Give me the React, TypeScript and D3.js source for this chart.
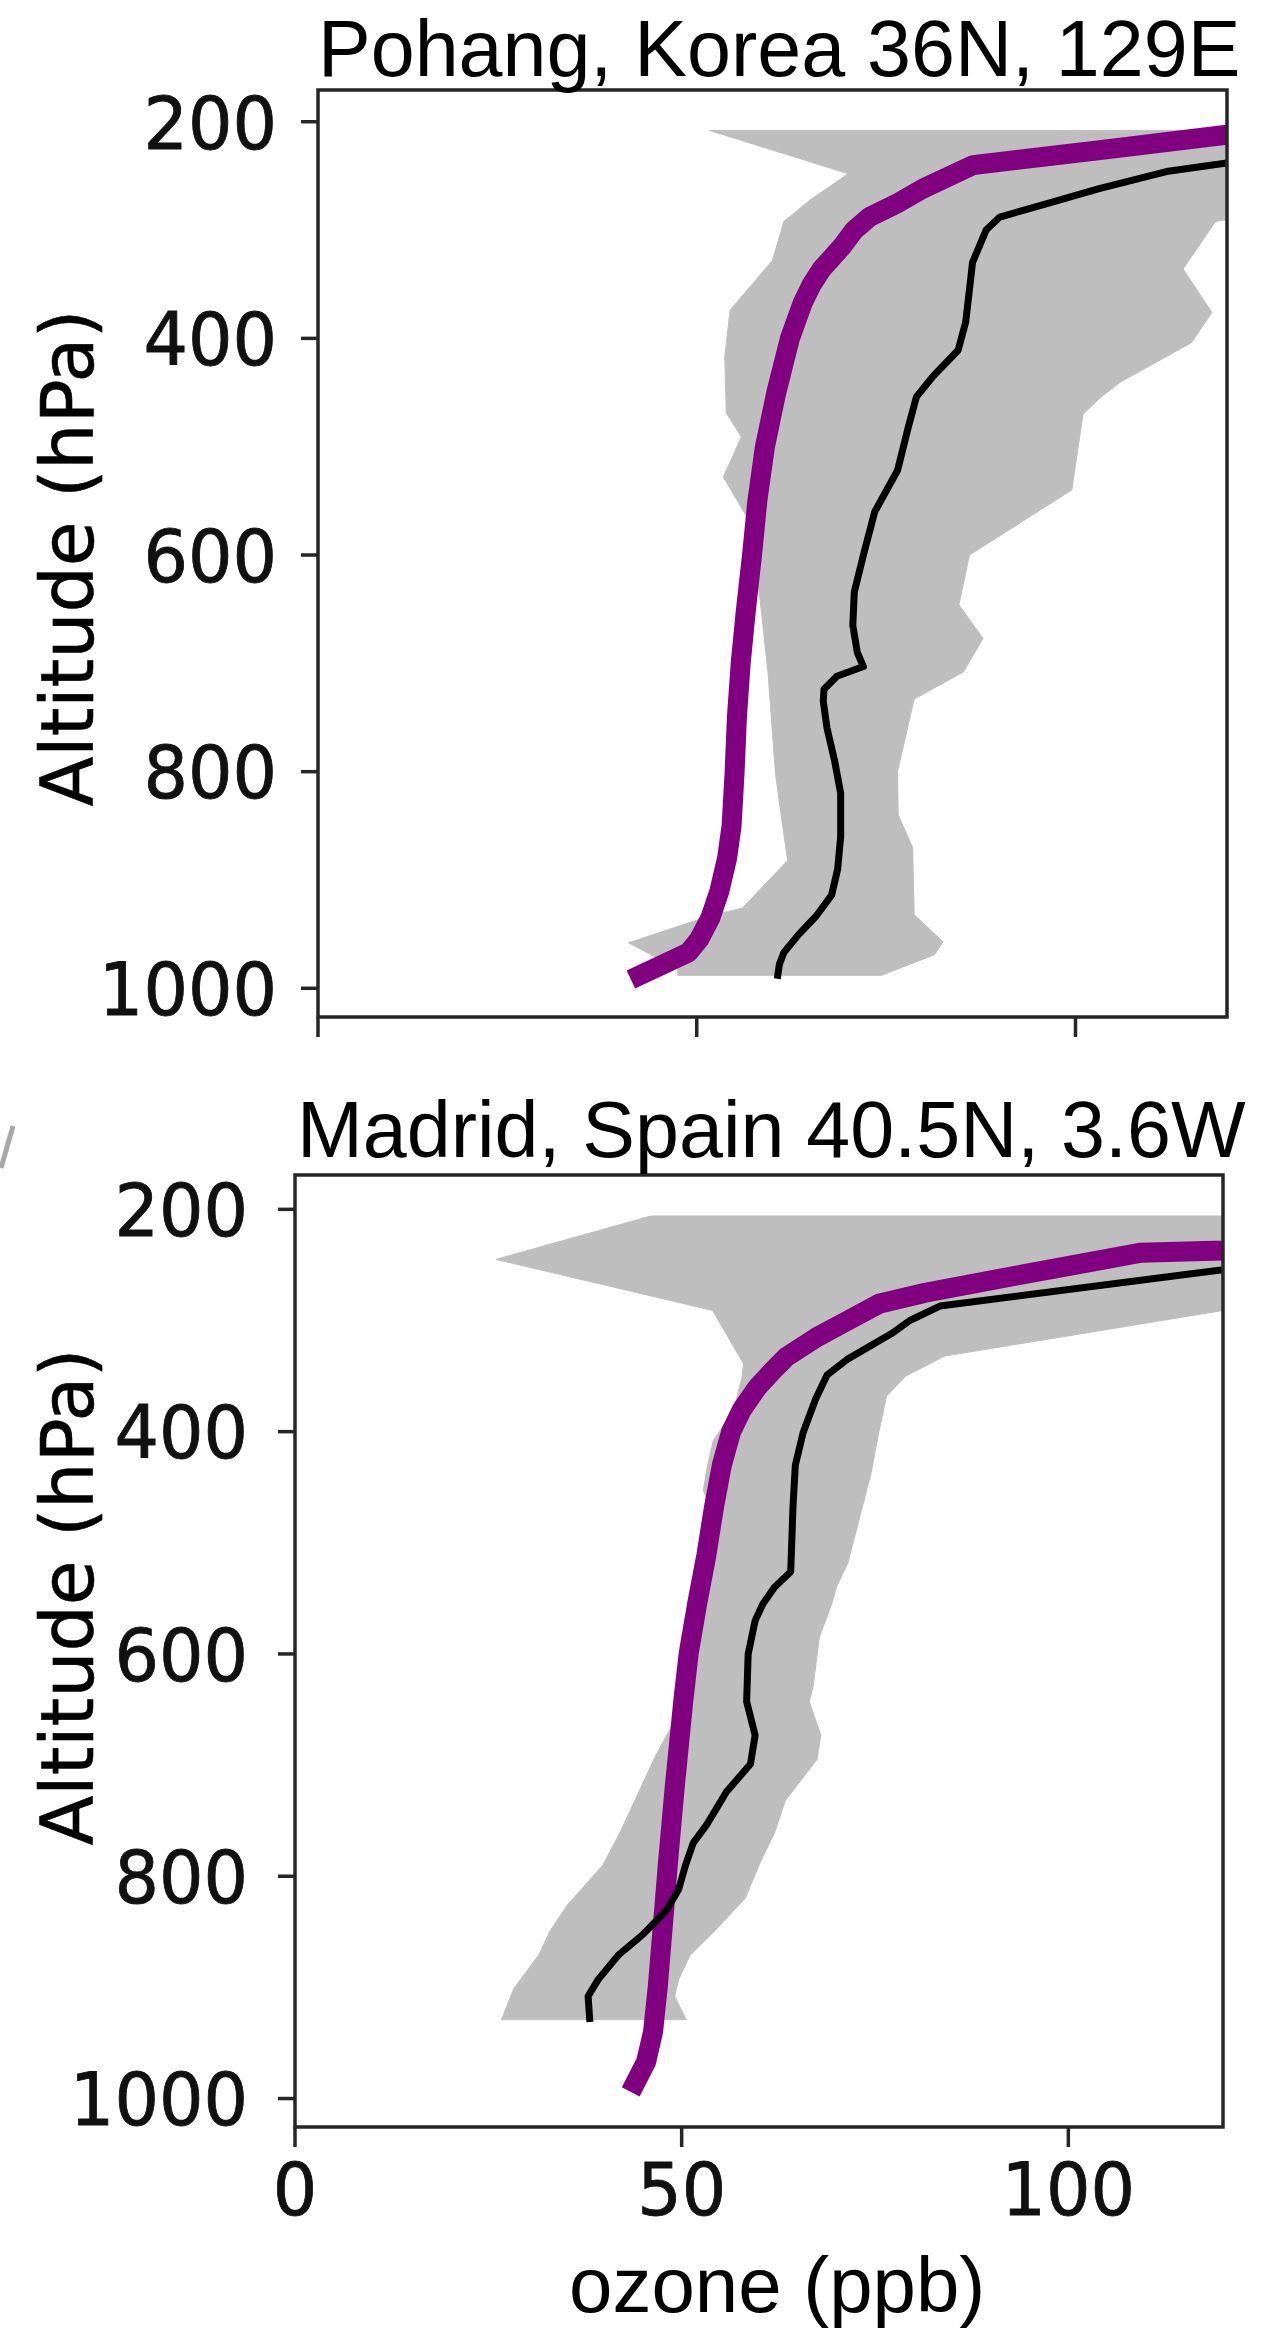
import React from "react";
import * as d3 from "d3";

// ---------- data (pressure hPa, ozone ppb) ----------
const xTicks = [0, 50, 100];
const yTicks = [200, 400, 600, 800, 1000];

const pohangObs: [number, number][] = [
  [232, 132], [238, 120], [246, 112], [262, 103], [276, 96], [288, 90], [300, 88.2],
  [330, 86.4], [343, 86.2], [385, 85.5], [411, 84.5], [435, 81.2], [454, 79], [480, 78],
  [522, 76.5], [560, 73.5], [600, 72], [634, 70.8], [665, 70.6], [690, 71.2], [703, 72],
  [712, 68.5], [724, 66.8], [735, 66.7], [760, 67.2], [790, 68.2], [820, 69], [860, 69],
  [890, 68.6], [914, 67.8], [933, 65.8], [950, 63.5], [967, 61.5], [978, 60.9], [988, 60.7],
];
const pohangModel: [number, number][] = [
  [205, 129], [212, 120], [226, 103.5], [240, 86.5], [262, 79.8], [276, 76.3], [288, 72.8],
  [300, 70.8], [315, 69.2], [336, 66.5], [350, 65.2], [367, 64], [400, 62.3], [450, 60.5],
  [500, 59], [550, 58], [600, 57.3], [650, 56.5], [700, 55.8], [750, 55.3], [800, 55],
  [850, 54.6], [880, 54], [910, 53], [935, 51.8], [955, 50.3], [967, 48.9], [988, 42.5],
];
const pohangLow: [number, number][] = [
  [208, 51.7], [248, 70], [272, 65], [292, 61.5], [328, 60], [374, 54.4], [417, 53.7],
  [469, 53.9], [491, 55.9], [528, 53.5], [574, 57.4], [603, 57.7], [650, 58.5], [708, 59.4],
  [802, 60.4], [833, 61], [882, 62], [926, 56], [933, 51.8], [958, 41], [982, 47.5], [988, 47.5],
];
const pohangHigh: [number, number][] = [
  [208, 128], [286, 124], [292, 118.5], [336, 114.2], [376, 118], [404, 115.3], [440, 106],
  [454, 103.4], [470, 101], [540, 99.5], [600, 86], [646, 84.6], [677, 87.8], [708, 85.2],
  [733, 78.7], [800, 76.5], [840, 76.6], [870, 78.5], [932, 78.7], [957, 82.5], [969, 81.4],
  [988, 74.4],
];

const madridObs: [number, number][] = [
  [250, 126], [254, 120.3], [287, 83.4], [300, 79.5], [312, 77.1], [335, 71.4], [349, 68.8],
  [371, 67.3], [401, 65.7], [430, 64.7], [467, 64.4], [526, 64.1], [540, 62], [555, 60.5],
  [570, 59.5], [600, 58.6], [643, 58.4], [673, 59.5], [699, 58.9], [724, 55.8], [754, 53.2],
  [770, 51.5], [790, 50.5], [812, 49.6], [831, 48], [853, 44.9], [871, 41.8], [893, 39.2],
  [908, 37.9], [928, 38.1],
];
const madridModel: [number, number][] = [
  [232, 130], [237, 120], [239, 109.4], [248, 102.4], [260, 93], [275, 81.5], [285, 75.5],
  [300, 71.5], [315, 67.5], [333, 63.5], [345, 61.8], [360, 59.8], [380, 57.8], [400, 56.4],
  [430, 55.2], [467, 54.2], [511, 53.2], [555, 52], [600, 50.9], [643, 50.2], [720, 49.1],
  [790, 48.2], [850, 47.5], [900, 46.9], [940, 46.3], [967, 45.4], [986, 44],
];
const madridLow: [number, number][] = [
  [206, 46], [245, 26], [291, 54], [339, 58], [351, 57.8], [381, 56.7], [408, 54.1],
  [432, 53.3], [453, 52.8], [468, 53.7], [500, 53], [545, 52.2], [585, 50], [600, 49.8],
  [625, 50.2], [643, 50.4], [692, 46.6], [746, 43], [761, 42], [790, 39.8],
  [826, 35.2], [849, 33], [871, 31.5], [901, 28.3], [929, 26.7],
];
const madridHigh: [number, number][] = [
  [206, 130], [286, 130], [291, 120], [332, 84], [350, 79], [368, 76.5], [400, 75.5],
  [437, 74.5], [518, 71.5], [540, 70], [555, 69.4], [585, 67.8], [629, 67], [643, 66.5],
  [673, 68], [695, 67.5], [732, 63.4], [761, 62], [790, 60], [820, 58.2], [849, 54.3],
  [871, 51.1], [893, 49.6], [908, 49.1], [929, 50.6],
];

// ---------- layout ----------
const DEJAVU = "DejaVu Sans, sans-serif";
const HELV = "Liberation Sans, Arial, Helvetica, sans-serif";
const TICK_FS = 70;
const VSTRETCH = 1.05;

type PanelProps = {
  id: string;
  title: string;
  titleX: number;
  titleY: number;
  left: number;
  right: number;
  top: number;
  bottom: number;
  pTop: number;
  pBottom: number;
  labelRight: number;
  ylabelY: number;
  showXLabels: boolean;
  obs: [number, number][];
  model: [number, number][];
  low: [number, number][];
  high: [number, number][];
};

function Panel(p: PanelProps) {
  const x = d3.scaleLinear().domain([0, 120]).range([p.left, p.right]);
  const y = d3.scaleLinear().domain([p.pTop, p.pBottom]).range([p.top, p.bottom]);
  const line = d3
    .line<[number, number]>()
    .x((d) => x(d[1]))
    .y((d) => y(d[0]));
  const band = line([...p.low, ...p.high.slice().reverse()]) + "Z";
  const tickLen = 17;
  const spine = "#262626";
  return (
    <g>
      <defs>
        <clipPath id={p.id}>
          <rect x={p.left} y={p.top} width={p.right - p.left} height={p.bottom - p.top} />
        </clipPath>
      </defs>
      <g clipPath={`url(#${p.id})`}>
        <path d={band} fill="#bebebe" stroke="#bebebe" strokeWidth={1} strokeLinejoin="round" />
        <path d={line(p.model) || ""} fill="none" stroke="#800080" strokeWidth={20} strokeLinejoin="round" strokeLinecap="square" />
        <path d={line(p.obs) || ""} fill="none" stroke="#000" strokeWidth={7} strokeLinejoin="round" strokeLinecap="square" />
      </g>
      <rect x={p.left} y={p.top} width={p.right - p.left} height={p.bottom - p.top} fill="none" stroke={spine} strokeWidth={3.5} />
      {yTicks.map((t) => (
        <g key={"y" + t}>
          <line x1={p.left - tickLen} x2={p.left} y1={y(t)} y2={y(t)} stroke={spine} strokeWidth={3.5} />
          <text
            transform={`translate(${p.labelRight},${y(t)}) scale(1,${VSTRETCH})`}
            y={TICK_FS * 0.3645}
            textAnchor="end"
            fontFamily={DEJAVU}
            fontSize={TICK_FS}
            fill="#111"
            stroke="#111"
            strokeWidth={0.8}
          >
            {t}
          </text>
        </g>
      ))}
      {xTicks.map((t) => (
        <g key={"x" + t}>
          <line x1={x(t)} x2={x(t)} y1={p.bottom} y2={p.bottom + 20} stroke={spine} strokeWidth={3.5} />
          {p.showXLabels && (
            <text
              transform={`translate(${x(t)},2215) scale(1,${VSTRETCH})`}
              textAnchor="middle"
              fontFamily={DEJAVU}
              fontSize={TICK_FS}
              fill="#111"
              stroke="#111"
              strokeWidth={0.8}
            >
              {t}
            </text>
          )}
        </g>
      ))}
      <text
        transform={`translate(93,${p.ylabelY}) rotate(-90)`}
        textAnchor="middle"
        fontFamily={DEJAVU}
        fontSize={73}
        fill="#000"
        stroke="#000"
        strokeWidth={0.6}
      >
        Altitude (hPa)
      </text>
      <text x={p.titleX} y={p.titleY} fontFamily={HELV} fontSize={79} fill="#000">
        {p.title}
      </text>
    </g>
  );
}

export default function App() {
  return (
    <svg
      width={1261}
      height={2330}
      viewBox="0 0 1261 2330"
      style={{ position: "absolute", left: 0, top: 0, display: "block", background: "#fff" }}
    >
      <rect x={0} y={0} width={1261} height={2330} fill="#fff" />
      <Panel
        id="clipTop"
        title="Pohang, Korea 36N, 129E"
        titleX={318}
        titleY={76}
        left={318}
        right={1227}
        top={90}
        bottom={1017}
        pTop={170.7}
        pBottom={1026.5}
        labelRight={277}
        ylabelY={558}
        showXLabels={false}
        obs={pohangObs}
        model={pohangModel}
        low={pohangLow}
        high={pohangHigh}
      />
      <Panel
        id="clipBottom"
        title="Madrid, Spain 40.5N, 3.6W"
        titleX={297}
        titleY={1157}
        left={295}
        right={1223}
        top={1175}
        bottom={2127}
        pTop={169.1}
        pBottom={1025.6}
        labelRight={248}
        ylabelY={1597}
        showXLabels={true}
        obs={madridObs}
        model={madridModel}
        low={madridLow}
        high={madridHigh}
      />
      <line x1={1} y1={1168} x2={13} y2={1126} stroke="#a8a8a8" strokeWidth={5} />
      <text x={569} y={2312} fontFamily={HELV} fontSize={78} fill="#000">
        ozone (ppb)
      </text>
    </svg>
  );
}
